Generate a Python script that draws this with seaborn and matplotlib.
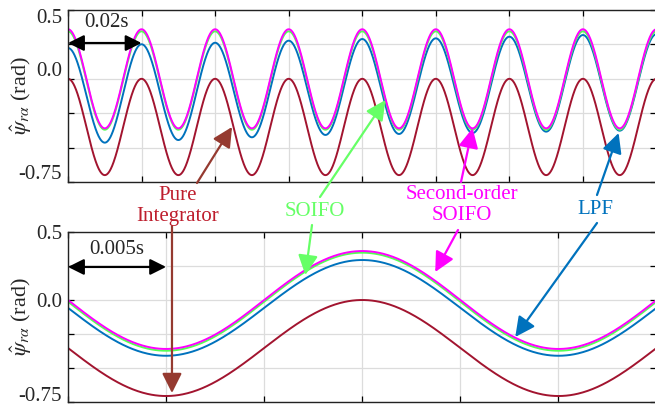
import numpy as np
import pandas as pd
import matplotlib
matplotlib.use("Agg")
import matplotlib.pyplot as plt
import matplotlib.transforms as mtransforms
import seaborn as sns

# ---------------- data ----------------
# Top panel: extreme values (alternating peak / trough) every 0.01 s, t = 0 ... 0.16 s
top_ext_t = [0.00, 0.01, 0.02, 0.03, 0.04, 0.05, 0.06, 0.07, 0.08,
             0.09, 0.10, 0.11, 0.12, 0.13, 0.14, 0.15, 0.16]
pure_top = [0.00, -0.70, 0.00, -0.70, 0.00, -0.70, 0.00, -0.70, 0.00,
            -0.70, 0.00, -0.70, 0.00, -0.70, 0.00, -0.70, 0.00]
lpf_top = [0.224, -0.464, 0.251, -0.445, 0.262, -0.425, 0.277, -0.408, 0.289,
           -0.401, 0.294, -0.394, 0.306, -0.384, 0.318, -0.377, 0.325]
soifo_top = [0.345, -0.37, 0.345, -0.37, 0.345, -0.37, 0.345, -0.37, 0.345,
             -0.37, 0.345, -0.37, 0.345, -0.37, 0.345, -0.37, 0.345]
so_soifo_top = [0.36, -0.36, 0.36, -0.36, 0.36, -0.36, 0.36, -0.36, 0.36,
                -0.36, 0.36, -0.36, 0.36, -0.36, 0.36, -0.36, 0.36]

# Bottom panel (zoom): extreme values every 0.01 s
bot_ext_t = [-0.005, 0.005, 0.015, 0.025, 0.035]
pure_bot = [0.00, -0.706, 0.00, -0.706, 0.00]
lpf_bot = [0.294, -0.41, 0.294, -0.41, 0.294]
soifo_bot = [0.348, -0.373, 0.348, -0.373, 0.348]
so_soifo_bot = [0.36, -0.36, 0.36, -0.36, 0.36]

methods = ["Pure Integrator", "LPF", "SOIFO", "Second-order SOIFO"]
colors = ["#A2142F", "#0072BD", "#55FF55", "#FF00FF"]

y_ticks = [-0.75, -0.5, -0.25, 0.0, 0.25, 0.5]
y_label_vals = [0.5, 0.0, -0.75]
y_label_txt = ["0.5", "0.0", "-0.75"]


def wave(t_ext, ext, t):
    t_ext = np.asarray(t_ext)
    ext = np.asarray(ext)
    k = np.clip(np.searchsorted(t_ext, t, side="right") - 1, 0, len(t_ext) - 2)
    frac = (t - t_ext[k]) / (t_ext[k + 1] - t_ext[k])
    w = (1 - np.cos(np.pi * frac)) / 2
    return ext[k] + (ext[k + 1] - ext[k]) * w


def build(t_ext, series, t):
    frames = []
    for name, ext in zip(methods, series):
        frames.append(pd.DataFrame({"t": t, "psi": wave(t_ext, ext, t), "method": name}))
    return pd.concat(frames, ignore_index=True)


t_top = np.linspace(0, 0.16, 1601)
t_bot = np.linspace(0, 0.03, 601)
df_top = build(top_ext_t, [pure_top, lpf_top, soifo_top, so_soifo_top], t_top)
df_bot = build(bot_ext_t, [pure_bot, lpf_bot, soifo_bot, so_soifo_bot], t_bot)

# ---------------- figure ----------------
sns.set_theme(style="ticks")
plt.rcParams["font.family"] = ["Liberation Serif", "DejaVu Serif"]
plt.rcParams["mathtext.fontset"] = "stix"

W, H = 655, 405
fig = plt.figure(figsize=(W / 100, H / 100), dpi=100)


def fpx(x, y):
    return (x / W, 1 - y / H)


ax_top = fig.add_axes([68 / W, 1 - 182 / H, 588.5 / W, 172 / H])
ax_bot = fig.add_axes([68 / W, 1 - 402 / H, 588.5 / W, 170 / H])

# per-label vertical offsets (pixels, positive = down) as seen in the reference
label_offsets = {ax_top: [8.5, -7.5, -7.0], ax_bot: [2.5, 2.5, -5.5]}

palette = dict(zip(methods, colors))
for ax, df, xmax, xstep in [(ax_top, df_top, 0.16, 0.02), (ax_bot, df_bot, 0.03, 0.005)]:
    sns.lineplot(data=df, x="t", y="psi", hue="method", hue_order=methods,
                 palette=palette, ax=ax, legend=False, linewidth=1.4, sort=False)
    ax.set_xlim(0, xmax)
    ax.set_ylim(-0.75, 0.5)
    ax.set_xticks(np.arange(0, xmax + 1e-9, xstep))
    ax.set_xticklabels([])
    ax.set_yticks(y_ticks)
    ax.set_yticklabels([])
    ax.grid(True, color="#dcdcdc", linewidth=0.9)
    ax.set_axisbelow(True)
    ax.tick_params(direction="in", length=4, width=0.9, top=True, right=True,
                   colors="black", pad=4)
    for s in ax.spines.values():
        s.set_color("#222222")
        s.set_linewidth(1.0)
    ax.set_xlabel("")
    ax.set_ylabel(r"$\hat{\psi}_{r\alpha}$ (rad)", fontsize=16)
    ax.yaxis.set_label_coords(-0.058, 0.5)
    base = mtransforms.blended_transform_factory(ax.transAxes, ax.transData)
    for v, txt, off in zip(y_label_vals, y_label_txt, label_offsets[ax]):
        tr = base + mtransforms.ScaledTranslation(-6 / 100, -off / 100, fig.dpi_scale_trans)
        ax.text(0, v, txt, transform=tr, ha="right", va="center", fontsize=15)

# ---------------- annotations ----------------
dbl = dict(arrowstyle="<|-|>,head_length=0.6,head_width=0.3", color="black",
           lw=1.6, mutation_scale=16, shrinkA=0, shrinkB=0)
ax_top.annotate("", xy=(0.0, 0.26), xytext=(0.02, 0.26), xycoords="data",
                arrowprops=dbl, annotation_clip=False)
ax_top.text(0.0105, 0.41, "0.02s", ha="center", va="center", fontsize=15)
ax_bot.annotate("", xy=(0.0, 0.243), xytext=(0.005, 0.243), xycoords="data",
                arrowprops=dbl, annotation_clip=False)
ax_bot.text(0.0025, 0.37, "0.005s", ha="center", va="center", fontsize=15)

labels = [
    ("Pure\nIntegrator", (178, 206), "#BE1E2D"),
    ("SOIFO", (315, 212), "#66FF66"),
    ("Second-order\nSOIFO", (462, 205), "#FF00FF"),
    ("LPF", (595, 210), "#0072BD"),
]
for txt, (x, y), c in labels:
    fig.text(*fpx(x, y), txt, ha="center", va="center", color=c, fontsize=15,
             linespacing=1.2)

arrows = [
    # (tail px, target axes, tip data, color)
    ((197, 183), ax_top, (0.0446, -0.35), "#953A30"),
    ((172, 226), ax_bot, (0.0053, -0.684), "#953A30"),
    ((320, 197), ax_top, (0.0863, -0.154), "#66FF66"),
    ((312, 225), ax_bot, (0.0121, 0.184), "#66FF66"),
    ((461, 182), ax_top, (0.110, -0.358), "#FF00FF"),
    ((458, 230), ax_bot, (0.01872, 0.206), "#FF00FF"),
    ((597, 195), ax_top, (0.1497, -0.394), "#0072BD"),
    ((597, 223), ax_bot, (0.0228, -0.272), "#0072BD"),
]
for (x, y), ax, tip, c in arrows:
    ax.annotate("", xy=tip, xycoords="data", xytext=fpx(x, y),
                textcoords="figure fraction",
                arrowprops=dict(arrowstyle="-|>,head_length=0.5,head_width=0.25",
                                color=c, lw=1.6, mutation_scale=24,
                                shrinkA=0, shrinkB=0),
                annotation_clip=False)

fig.savefig("out.png", dpi=100)
